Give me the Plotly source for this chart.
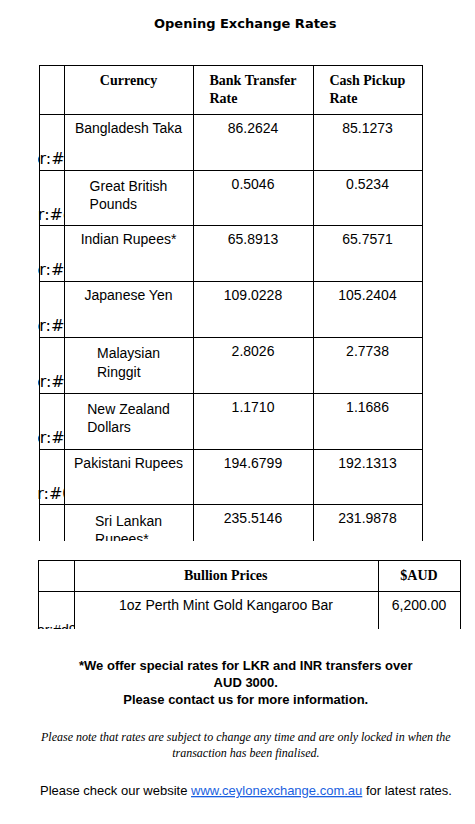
import plotly.graph_objects as go

currencies = ["Bangladesh Taka", "Great British Pounds", "Indian Rupees*", "Japanese Yen",
              "Malaysian Ringgit", "New Zealand<br>Dollars", "Pakistani Rupees",
              "Sri Lankan Rupees*", "US Dollar", "Nepalese Rupees"]
bank_rate = ["86.2624", "0.5046", "65.8913", "109.0228", "2.8026", "1.1710",
             "194.6799", "235.5146", "0.6761", "105.8979"]
cash_rate = ["85.1273", "0.5234", "65.7571", "105.2404", "2.7738", "1.1686",
             "192.1313", "231.9878", "0.6733", ""]
flag_colors = ["#e0313f", "#c8102e", "#f29b38", "#d3001f", "#1a3a8f", "#1a2f7a",
               "#0b6b2e", "#f7b500", "#3c3b6e", "#d0103a"]
bullion_items = ["1oz Perth Mint Gold Kangaroo Bar", "1kg Perth Mint Silver Cast Bar"]
bullion_prices = ["6,200.00", "3,200.00"]
bullion_colors = ["#d9a62e", "#b8b8b8"]

W, H = 475, 824
def px(x): return x / W
def py(y): return 1 - y / H

flags = [f"<span style='color:{c}'>●</span>" for c in flag_colors]
bars = [f"<span style='color:{c}'>▬</span>" for c in bullion_colors]

fig = go.Figure()
fig.add_trace(go.Table(
    domain=dict(x=[px(31), px(414)], y=[py(533), py(57)]),
    columnwidth=[25, 129, 120, 109],
    header=dict(values=["", "<b>Currency</b>", "<b>Bank Transfer<br>Rate</b>", "<b>Cash Pickup<br>Rate</b>"],
                font=dict(family="Liberation Serif", size=14, color="black"),
                align="center", height=41, line=dict(color="black", width=1),
                fill=dict(color="white")),
    cells=dict(values=[flags, currencies, bank_rate, cash_rate],
               font=dict(family=["DejaVu Sans", "Liberation Sans", "Liberation Sans", "Liberation Sans"],
                         size=[16, 14, 14, 14], color="black"),
               align="center", height=43.5, line=dict(color="black", width=1),
               fill=dict(color="white"))
))
fig.add_trace(go.Table(
    domain=dict(x=[px(30), px(452)], y=[py(621), py(552)]),
    columnwidth=[36, 304, 82],
    header=dict(values=["", "<b>Bullion Prices</b>", "<b>$AUD</b>"],
                font=dict(family="Liberation Serif", size=14, color="black"),
                align="center", height=19, line=dict(color="black", width=1),
                fill=dict(color="white")),
    cells=dict(values=[bars, bullion_items, bullion_prices],
               font=dict(family="Liberation Sans", size=14, color="black"),
               align="center", height=25, line=dict(color="black", width=1),
               fill=dict(color="white"))
))

def note(text, y, size, family="DejaVu Sans"):
    fig.add_annotation(text=text, x=0.5, y=py(y), xref="paper", yref="paper",
                       showarrow=False, font=dict(size=size, family=family, color="black"),
                       xanchor="center", yanchor="middle")

note("<b>Opening Exchange Rates</b>", 16, 13)
note("<b>*We offer special rates for LKR and INR transfers over<br>AUD 3000.<br>Please contact us for more information.</b>",
     674, 13, family="Liberation Sans")
note("<i>Please note that rates are subject to change any time and are only locked in when the<br>transaction has been finalised.</i>",
     737, 12, family="Liberation Serif")
note("Please check our website <a href='http://www.ceylonexchange.com.au' style='color:#1a5fe0'><u>www.ceylonexchange.com.au</u></a> for latest rates.",
     782, 13, family="Liberation Sans")

fig.update_layout(width=W, height=H, margin=dict(l=0, r=0, t=0, b=0),
                  paper_bgcolor="white", plot_bgcolor="white")
fig.write_html("out.html")
